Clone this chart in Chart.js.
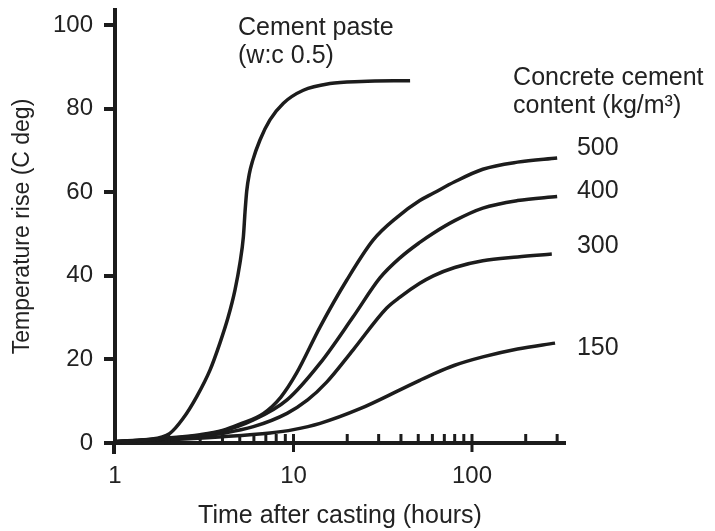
<!DOCTYPE html>
<html>
<head>
<meta charset="utf-8">
<script src="https://cdn.jsdelivr.net/npm/chart.js@4.4.1/dist/chart.umd.min.js"></script>
<style>
  html, body { margin: 0; padding: 0; background: #fff; }
  #wrap { width: 715px; height: 531px; }
</style>
</head>
<body>
<div id="wrap"><canvas id="chart"></canvas></div>
<script>
// temperature rise curves, hours after casting vs C deg
const pasteHours = [1, 1.5, 2.03, 2.41, 2.87, 3.41, 3.87, 4.31, 4.70, 5.01, 5.24, 5.35, 5.47, 5.65, 5.9, 6.49, 7.38, 8.78, 11.35, 16, 24, 45];
const pasteRise  = [0.3, 0.8, 2.3, 5.9, 11.1, 17.5, 23.9, 30.2, 36.6, 43, 49.4, 55.2, 60.3, 64.3, 67.5, 72.5, 77.3, 81.3, 84.4, 86.0, 86.5, 86.7];

const c500Hours = [1, 2, 3, 4, 5, 6.8, 8.5, 10.4, 14.1, 19.9, 28, 38, 51, 61, 80, 115, 180, 300];
const c500Rise  = [0.3, 1.2, 2.0, 3.0, 4.5, 7.1, 11, 16.7, 27.8, 39, 48.6, 54, 58, 59.8, 62.5, 65.5, 67.2, 68.2];

const c400Hours = [1, 2, 3, 4, 5.96, 9.2, 14.1, 21.6, 30.5, 39.5, 51, 60.7, 80, 115, 180, 300];
const c400Rise  = [0.3, 1.1, 1.8, 2.8, 5.5, 10.3, 19.1, 30.2, 39.5, 44.3, 48, 50.2, 53.2, 56.2, 58, 59];

const c300Hours = [1, 2, 3, 4, 5.96, 9.2, 12, 15.3, 21.6, 33.3, 39.5, 51, 60.7, 80, 115, 180, 280];
const c300Rise  = [0.3, 1.0, 1.6, 2.3, 3.9, 7.1, 10.3, 14.5, 22.3, 32.3, 34.9, 38.2, 40.0, 42.0, 43.6, 44.5, 45.2];

const c150Hours = [1, 2, 4, 7.4, 10, 14.1, 23.6, 39.5, 51, 60.7, 80, 115, 180, 292];
const c150Rise  = [0.3, 0.8, 1.5, 2.4, 3.2, 4.7, 8.2, 12.7, 15.0, 16.5, 18.6, 20.6, 22.5, 23.9];

const yTicks = [0, 20, 40, 60, 80, 100];
const xMajorTicks = [1, 10, 100];
const xMinorTicks = [2, 3, 4, 5, 6, 7, 8, 9, 20, 30, 40, 50, 60, 70, 80, 90, 200, 300];

const INK = '#1c1c1c';
const TEXT = '#222';
const FONT = "'Liberation Sans', Arial, Helvetica, sans-serif";

// text placed beside the curves, in data units
const notes = [
  { text: 'Cement paste', x: 4.89, y: 99.3 },
  { text: '(w:c 0.5)', x: 4.89, y: 92.6 },
  { text: 'Concrete cement', x: 170, y: 87.3 },
  { text: 'content (kg/m\u00B3)', x: 170, y: 80.5 },
  { text: '500', x: 387, y: 70.6 },
  { text: '400', x: 387, y: 60.2 },
  { text: '300', x: 387, y: 47.0 },
  { text: '150', x: 387, y: 22.7 }
];

const toPoints = (xs, ys) => xs.map((x, i) => ({ x: x, y: ys[i] }));

const curve = (label, xs, ys) => ({
  label: label,
  data: toPoints(xs, ys),
  borderColor: INK,
  borderWidth: 3.5,
  pointRadius: 0,
  fill: false,
  cubicInterpolationMode: 'monotone',
  clip: 6
});

// inward x ticks, y axis stub below the origin, and the curve notes
const extras = {
  id: 'extras',
  afterDraw(chart) {
    const { ctx, chartArea } = chart;
    const xs = chart.scales.x, ys = chart.scales.y;
    const base = ys.getPixelForValue(0);
    ctx.save();
    ctx.strokeStyle = INK;
    ctx.lineCap = 'butt';
    ctx.lineWidth = 3;
    xMinorTicks.forEach(v => {
      const px = xs.getPixelForValue(v);
      ctx.beginPath();
      ctx.moveTo(px, base);
      ctx.lineTo(px, base - 9);
      ctx.stroke();
    });
    xMajorTicks.slice(1).forEach(v => {
      const px = xs.getPixelForValue(v);
      ctx.beginPath();
      ctx.moveTo(px, base - 9);
      ctx.lineTo(px, base + 9);
      ctx.stroke();
    });
    ctx.lineWidth = 4;
    ctx.beginPath();
    ctx.moveTo(chartArea.left - 1, base);
    ctx.lineTo(chartArea.left - 1, base + 11);
    ctx.stroke();

    ctx.fillStyle = TEXT;
    ctx.font = '25px ' + FONT;
    ctx.textAlign = 'left';
    ctx.textBaseline = 'middle';
    notes.forEach(n => {
      ctx.fillText(n.text, xs.getPixelForValue(n.x), ys.getPixelForValue(n.y));
    });
    ctx.restore();
  }
};

new Chart(document.getElementById('chart'), {
  type: 'line',
  data: {
    datasets: [
      curve('Cement paste', pasteHours, pasteRise),
      curve('500', c500Hours, c500Rise),
      curve('400', c400Hours, c400Rise),
      curve('300', c300Hours, c300Rise),
      curve('150', c150Hours, c150Rise)
    ]
  },
  options: {
    responsive: true,
    maintainAspectRatio: false,
    animation: false,
    layout: { padding: { top: 10, right: 150, left: 0, bottom: 0 } },
    plugins: {
      legend: { display: false },
      tooltip: { enabled: false }
    },
    scales: {
      x: {
        type: 'logarithmic',
        position: 'bottom',
        min: 1,
        max: 332,
        afterBuildTicks: s => { s.ticks = xMajorTicks.map(v => ({ value: v })); },
        afterFit: s => { s.height = 88; s.paddingLeft = 0; s.paddingRight = 0; },
        grid: { display: false, drawTicks: false },
        border: { display: true, color: INK, width: 4 },
        ticks: {
          color: TEXT,
          font: { family: FONT, size: 24 },
          padding: 19,
          maxRotation: 0,
          autoSkip: false,
          callback: v => String(v)
        },
        title: {
          display: true,
          text: 'Time after casting (hours)',
          color: TEXT,
          font: { family: FONT, size: 25 },
          padding: { top: 0, bottom: 0 }
        }
      },
      y: {
        type: 'linear',
        min: 0,
        max: 103.6,
        afterBuildTicks: s => { s.ticks = yTicks.map(v => ({ value: v })); },
        afterFit: s => { s.width = 115; s.paddingTop = 0; s.paddingBottom = 0; },
        grid: {
          display: true,
          drawOnChartArea: false,
          drawTicks: true,
          tickLength: 11,
          lineWidth: 4,
          color: INK
        },
        border: { display: true, color: INK, width: 4 },
        ticks: {
          color: TEXT,
          font: { family: FONT, size: 24 },
          padding: 11
        },
        title: {
          display: true,
          text: 'Temperature rise (C deg)',
          color: TEXT,
          font: { family: FONT, size: 23 },
          padding: { top: 9, bottom: 0 }
        }
      }
    }
  },
  plugins: [extras]
});
</script>
</body>
</html>
